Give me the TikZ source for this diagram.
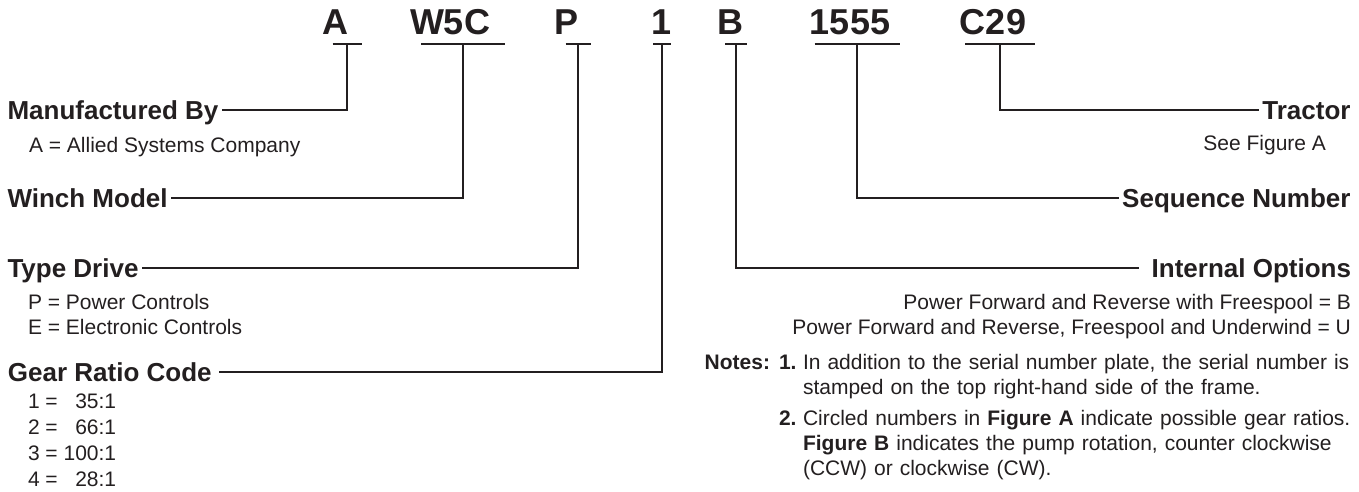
\documentclass[tikz,border=0pt]{standalone}
\usepackage{fontspec}
\setmainfont{Liberation Sans}
\definecolor{ink}{HTML}{231F20}

\begin{document}
\begin{tikzpicture}[x=1pt, y=-1pt, line width=2pt, color=ink,
  code/.style={anchor=base, inner sep=0pt, font=\fontsize{36}{40}\selectfont\bfseries},
  heading/.style={inner xsep=2.5pt, inner ysep=0pt, text height=18.6pt, text depth=0pt,
    font=\fontsize{26}{30}\selectfont\bfseries},
  sub/.style={inner sep=0pt, font=\fontsize{21}{25}\selectfont},
  subb/.style={sub, font=\fontsize{21}{25}\selectfont\bfseries},
  note/.style={sub, anchor=base west, text width=550pt, align=left}]

  \useasboundingbox (0,0) rectangle (1359,492);

  % serial number parts, each with its underline
  \foreach \id/\txt/\tx/\ux/\uw in {A/A/335/347/29, W/W5C/450/463/84, P/P/566/578/25,
      G/1/662/662/18, B/B/730/736/22, S/1555/850/857/85, T/C29/993/1000/70} {
    \node[code] (c\id) at (\tx,35) {\txt};
    \coordinate (u\id) at (\ux,44);
    \draw (\ux-\uw/2,44) -- (\ux+\uw/2,44);
  }

  % left side
  \node[heading, anchor=west] (mfg) at (4,110) {Manufactured By};
  \node[sub, anchor=base west] (mfgA) at (28,152) {A = Allied Systems Company};
  \node[heading, anchor=west] (winch) at (4,198) {Winch Model};
  \node[heading, anchor=west] (drive) at (4,268) {Type Drive};
  \node[sub, anchor=base west] (driveP) at (27,309) {P = Power Controls};
  \node[sub, anchor=base west] (driveE) at (27,334) {E = Electronic Controls};
  \node[heading, anchor=west, inner xsep=6pt] (gear) at (1,372) {Gear Ratio Code};
  \foreach \n/\r [count=\i from 0] in {1/35:1, 2/66:1, 3/100:1, 4/28:1}
    \node[sub, anchor=base west] (ratio\n) at (27,408+26*\i) {\n{} = \hphantom{100:1}\llap{\r}};

  % right side
  \node[heading, anchor=east] (tractor) at (1354,110) {Tractor};
  \node[sub, anchor=base east] (tractorA) at (1327,150) {See Figure A};
  \node[heading, anchor=east] (seq) at (1354,198) {Sequence Number};
  \node[heading, anchor=east, inner xsep=12pt] (intopt) at (1364,268) {Internal Options};
  \node[sub, anchor=base east] (optB) at (1352,309) {Power Forward and Reverse with Freespool = B};
  \node[sub, anchor=base east] (optU) at (1352,334) {Power Forward and Reverse, Freespool and Underwind = U};

  % leaders
  \draw (uA) |- (mfg);
  \draw (uW) |- (winch);
  \draw (uP) |- (drive);
  \draw (uG) |- (gear);
  \draw (uB) |- (intopt);
  \draw (uS) |- (seq);
  \draw (uT) |- (tractor);

  % notes
  \node[subb, anchor=base east] (notes) at (771,369) {Notes:};
  \node[subb, anchor=base west] (num1) at (778,369) {1.};
  \node[note] (note1) at (802,369) {\makebox[550pt][s]{In addition to the serial number plate, the serial number is}\\
    stamped on the top right-hand side of the frame.};
  \node[subb, anchor=base west] (num2) at (778,425) {2.};
  \node[note] (note2) at (802,425) {\makebox[550pt][s]{Circled numbers in \textbf{Figure A} indicate possible gear ratios.}\\
    \makebox[550pt][s]{\textbf{Figure B} indicates the pump rotation, counter clockwise}\\
    (CCW) or clockwise (CW).};
\end{tikzpicture}
\end{document}
